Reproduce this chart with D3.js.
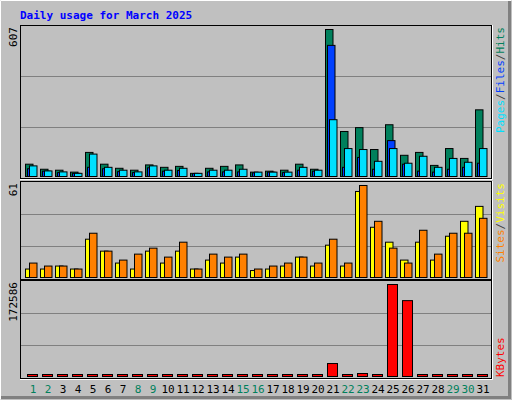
<!DOCTYPE html>
<html>
<head>
<meta charset="utf-8">
<script src="https://cdn.jsdelivr.net/npm/d3@7/dist/d3.min.js"></script>
<style>
  body { margin: 0; background: #fff; }
  text { font-family: "DejaVu Sans Mono", monospace; }
</style>
</head>
<body>
<script>
"use strict";

// Daily values
const days = d3.range(1, 32);
const weekend = [1, 2, 8, 9, 15, 16, 22, 23, 29, 30];
const hits = [47, 26, 22, 14, 96, 47, 30, 22, 44, 34, 38, 9, 30, 38, 44, 14, 18, 22, 47, 26,
  607, 183, 199, 108, 211, 84, 96, 42, 112, 71, 273];
const files = [28, 18, 12, 9, 34, 28, 16, 12, 32, 18, 21, 8, 15, 15, 15, 11, 14, 12, 22, 18,
  541, 34, 75, 26, 145, 47, 18, 14, 26, 34, 51];
const pages = [40, 19, 15, 9, 89, 34, 22, 15, 40, 22, 30, 9, 22, 22, 26, 14, 14, 14, 34, 22,
  232, 112, 108, 59, 112, 51, 80, 34, 71, 55, 112];
const sites = [5, 5, 7, 5, 25, 17, 9, 5, 17, 9, 17, 5, 11, 9, 13, 4, 5, 7, 13, 7,
  21, 7, 57, 33, 23, 11, 23, 11, 27, 37, 47];
const visits = [9, 7, 7, 5, 29, 17, 11, 15, 19, 13, 23, 5, 15, 13, 15, 5, 7, 9, 13, 9,
  25, 9, 61, 37, 19, 9, 31, 15, 29, 29, 39];
const kbytes = [1200, 1200, 1200, 1200, 1200, 1200, 1200, 1200, 1200, 1200, 1200, 1200, 1200, 1200, 1200, 1200,
  1200, 1200, 1200, 1200, 22700, 1200, 3800, 1200, 172586, 142000, 1200, 1200, 1200, 1200, 1200];

const W = 512, H = 400;
const svg = d3.select("body").append("svg").attr("width", W).attr("height", H);

// frame
svg.append("rect").attr("width", W).attr("height", H).attr("fill", "#c0c0c0");
svg.append("path").attr("d", "M0.5,399.5 V0.5 H511.5").attr("stroke", "#fff").attr("fill", "none");
svg.append("path").attr("d", "M1,397.5 H509.5 V1").attr("stroke", "#808080").attr("stroke-width", 3).attr("fill", "none");

svg.append("text").attr("x", 20).attr("y", 19).attr("fill", "#0000ff")
  .attr("font-size", 11).attr("font-weight", "bold").text("Daily usage for March 2025");

const x = d3.scaleLinear().domain([1, 31]).range([32, 482]);
const left = 20, right = 491;

const panels = [
  { top: 25, bottom: 178, max: 607, series: [
      { v: hits, c: "#00805c", dx: -7 }, { v: files, c: "#0040ff", dx: -5 }, { v: pages, c: "#00e0ff", dx: -3 }] },
  { top: 181, bottom: 279, max: 61, series: [
      { v: sites, c: "#ffff00", dx: -7 }, { v: visits, c: "#ff8000", dx: -3 }] },
  { top: 280, bottom: 378, max: 172586, series: [{ v: kbytes, c: "#ff0000", dx: -5, w: 10 }] }
];

panels.forEach((p) => {
  const y = d3.scaleLinear().domain([0, p.max]).range([p.bottom - 3, p.top + 4]);
  const g = svg.append("g");
  g.append("path").attr("d", `M${right + 1.5},${p.top} V${p.bottom + 1.5} H${left}`)
    .attr("stroke", "#fff").attr("fill", "none");
  g.append("rect").attr("x", left + 0.5).attr("y", p.top + 0.5)
    .attr("width", right - left).attr("height", p.bottom - p.top)
    .attr("fill", "#c0c0c0").attr("stroke", "#000");
  const step = (p.bottom - p.top) / 3;
  [1, 2].forEach((k) => {
    g.append("line").attr("x1", left + 1).attr("x2", right)
      .attr("y1", Math.round(p.top + step * k) + 0.5).attr("y2", Math.round(p.top + step * k) + 0.5)
      .attr("stroke", "#808080").attr("stroke-width", 1);
  });
  p.series.forEach((s) => {
    g.selectAll(null).data(s.v).enter().append("rect")
      .attr("x", (d, i) => x(days[i]) + s.dx + 0.5)
      .attr("y", (d) => Math.min(y(d), p.bottom - 4) + 0.5)
      .attr("width", s.w || 7.5)
      .attr("height", (d) => Math.max(p.bottom - 2 - y(d), 2))
      .attr("fill", s.c).attr("stroke", "#000");
  });
  // max label
  svg.append("text").attr("transform", `translate(17,${p.top + 2}) rotate(-90)`)
    .attr("text-anchor", "end").attr("font-size", 11).attr("font-family", "DejaVu Sans")
    .attr("fill", "#000").text(p.max);
});

// right-side legends
function legend(parts, y0, anchor) {
  const t = svg.append("text").attr("transform", `translate(504,${y0}) rotate(-90)`)
    .attr("text-anchor", anchor).attr("font-size", 11);
  parts.forEach(([s, c]) => t.append("tspan").attr("fill", c).text(s));
}
legend([["Pages", "#00e0ff"], ["/", "#404040"], ["Files", "#0040ff"], ["/", "#404040"], ["Hits", "#00805c"]], 27, "end");
legend([["Sites", "#ff8000"], ["/", "#404040"], ["Visits", "#ffff00"]], 183, "end");
legend([["KBytes", "#ff0000"]], 377, "start");

// day labels
svg.selectAll(".day").data(days).enter().append("text")
  .attr("x", (d) => x(d) + 1).attr("y", 393).attr("text-anchor", "middle")
  .attr("font-size", 11).attr("font-family", "DejaVu Sans")
  .attr("fill", (d) => weekend.includes(d) ? "#00805c" : "#000").text((d) => d);
</script>
</body>
</html>
